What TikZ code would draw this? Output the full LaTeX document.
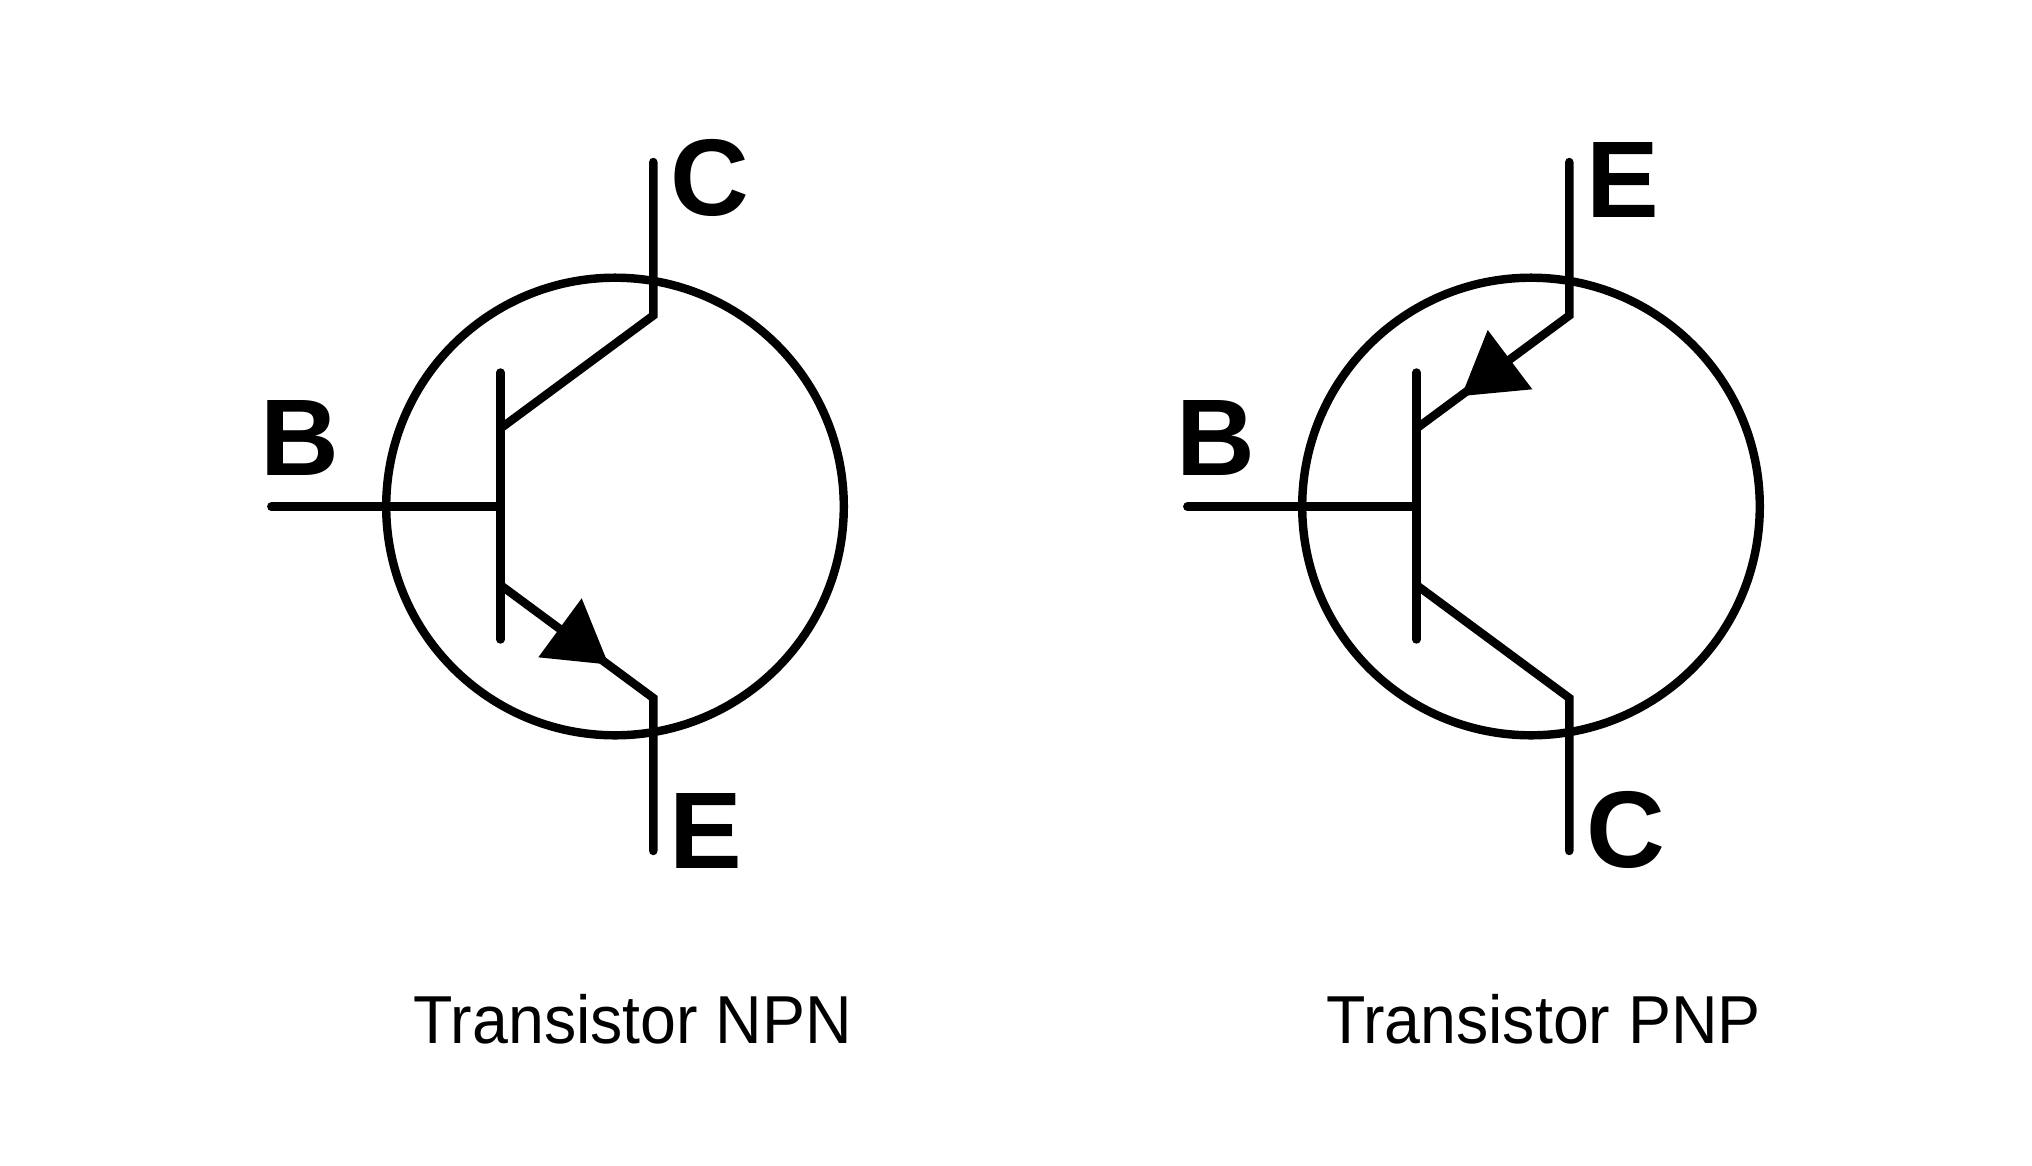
\documentclass[tikz,border=0pt]{standalone}
\usepackage{fontspec}
\setmainfont{Liberation Sans}
\newfontfamily\captionfont[FakeStretch=0.95]{Liberation Sans}
\usetikzlibrary{calc}

\tikzset{
  wire/.style={line width=2.4pt, line cap=round, line join=miter},
  pin/.style={font=\fontsize{31}{31}\selectfont\bfseries, inner sep=0pt},
  caption/.style={font=\captionfont\fontsize{19.3}{19.3}\selectfont, inner sep=0pt},
}

\begin{document}
\begin{tikzpicture}[x=0.01cm, y=-0.01cm]
    \useasboundingbox (0, 0) rectangle (2032, 1166);

    % NPN
    \coordinate (O1) at (615, 506.5);
    \coordinate (BL1) at (271.3, 506.7);
    \coordinate (BR1) at (500.4, 506.7);
    \coordinate (BT1) at (500.4, 372.5);
    \coordinate (BB1) at (500.4, 639.5);
    \coordinate (K1) at (500.4, 428.5);
    \coordinate (KC1) at (653.3, 315.5);
    \coordinate (KT1) at (653.3, 162);
    \coordinate (A1) at (500.4, 585);
    \coordinate (AC1) at (653.3, 698);
    \coordinate (AT1) at (653.3, 851);
    \coordinate (H1) at (608.5, 664.5);
    \coordinate (H1a) at (581.7, 598.3);
    \coordinate (H1b) at (538.3, 657.3);
    \draw[wire] (O1) circle (228.8);
    \draw[wire] (BL1) -- (BR1);
    \draw[wire] (BT1) -- (BB1);
    \draw[wire] (K1) -- (KC1) -- (KT1);
    \draw[wire] (A1) -- (AC1) -- (AT1);
    \fill (H1) -- (H1a) -- (H1b) -- cycle;
    \node[pin, anchor=base west] (c1) at (669.4, 215.5) {C};
    \node[pin, anchor=base west] (b1) at (260, 475.5) {B};
    \node[pin, anchor=base west] (e1) at (669, 868.3) {E};
    \node[caption, anchor=base] (t1) at (633, 1043) {Transistor NPN};

    % PNP
    \coordinate (O2) at (1531, 506.5);
    \coordinate (BL2) at (1187.3, 506.7);
    \coordinate (BR2) at (1416.4, 506.7);
    \coordinate (BT2) at (1416.4, 372.5);
    \coordinate (BB2) at (1416.4, 639.5);
    \coordinate (K2) at (1416.4, 428.5);
    \coordinate (KC2) at (1569.3, 315.5);
    \coordinate (KT2) at (1569.3, 162);
    \coordinate (A2) at (1416.4, 585);
    \coordinate (AC2) at (1569.3, 698);
    \coordinate (AT2) at (1569.3, 851);
    \coordinate (H2) at (1461.5, 396);
    \coordinate (H2a) at (1487.7, 330);
    \coordinate (H2b) at (1532.3, 389.3);
    \draw[wire] (O2) circle (228.8);
    \draw[wire] (BL2) -- (BR2);
    \draw[wire] (BT2) -- (BB2);
    \draw[wire] (K2) -- (KC2) -- (KT2);
    \draw[wire] (A2) -- (AC2) -- (AT2);
    \fill (H2) -- (H2a) -- (H2b) -- cycle;
    \node[pin, anchor=base west] (e2) at (1585.4, 217.3) {E};
    \node[pin, anchor=base west] (b2) at (1176, 475.5) {B};
    \node[pin, anchor=base west] (c2) at (1585.5, 867) {C};
    \node[caption, anchor=base] (t2) at (1543.5, 1043) {Transistor PNP};
\end{tikzpicture}
\end{document}
